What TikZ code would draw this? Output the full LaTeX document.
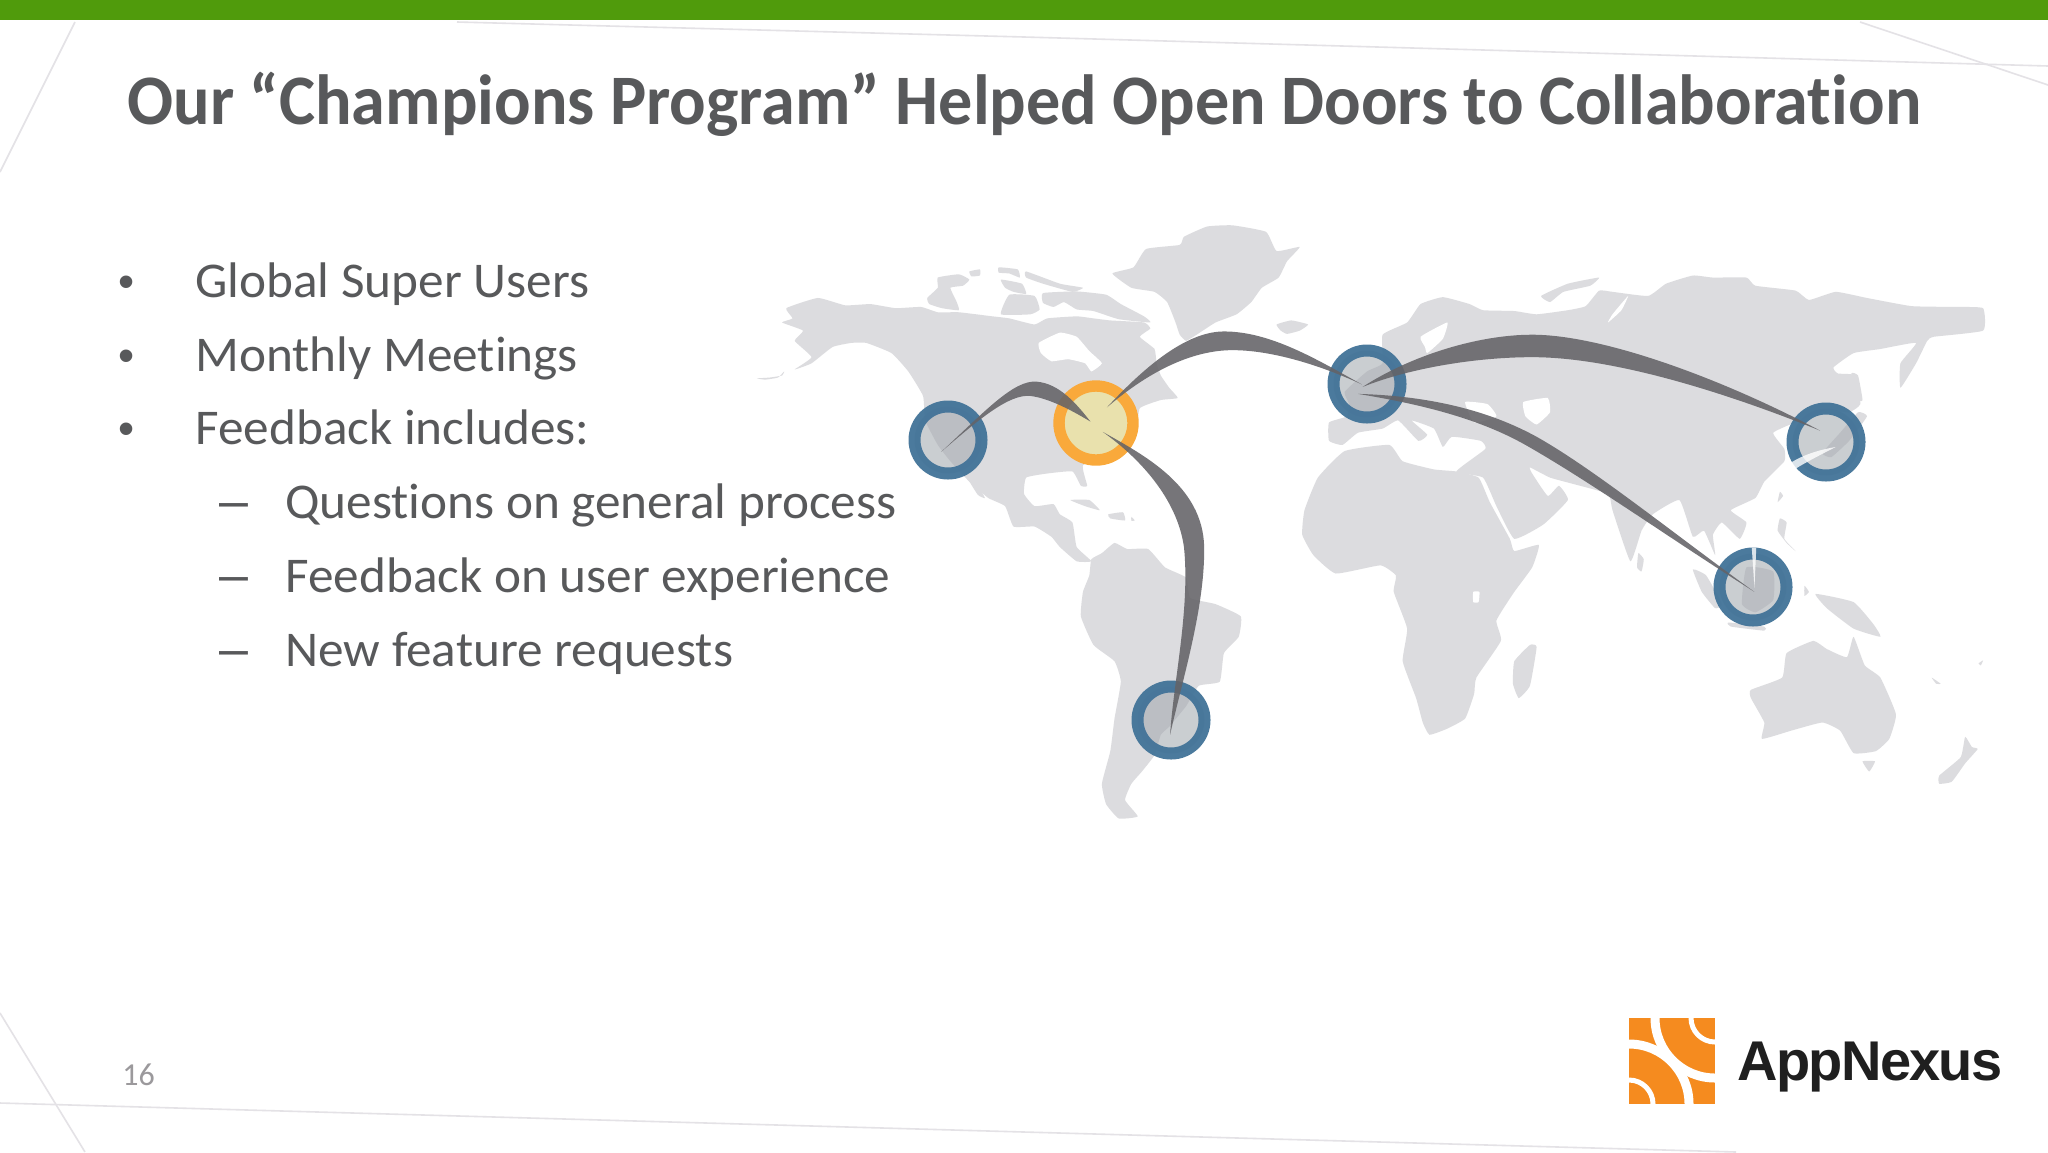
\documentclass[tikz,border=0pt]{standalone}
\usepackage{fontspec}
\setmainfont{Carlito}[RawFeature=-liga]
\newfontfamily\titleFont{Carlito}[FakeStretch=.96,RawFeature=-liga]
\newfontfamily\bodyFont{Carlito}[FakeStretch=1.025,RawFeature=-liga]
\newfontfamily\logoFont[LetterSpace=-3]{Liberation Sans}
\newfontfamily\markFont{Liberation Sans}
\usetikzlibrary{positioning}
\definecolor{barGreen}{RGB}{80,155,12}
\definecolor{inkGrey}{RGB}{88,89,91}
\definecolor{pageGrey}{RGB}{155,153,156}
\definecolor{landGrey}{RGB}{220,220,223}
\definecolor{traceGrey}{RGB}{228,226,230}
\definecolor{hubBlue}{RGB}{66,115,152}
\definecolor{hubFace}{RGB}{160,166,172}
\definecolor{homeOrange}{RGB}{249,169,59}
\definecolor{homeFace}{RGB}{236,226,165}
\definecolor{sweepGrey}{RGB}{100,99,103}
\definecolor{logoOrange}{RGB}{245,139,31}
\tikzstyle{slide} = [x = .5pt, y = -.5pt]
\tikzstyle{leftZoom} = [shift = {(740,200)}, x = .2104pt, y = -.2041pt]
\tikzstyle{rightZoom} = [shift = {(1300,200)}, x = .2232pt, y = -.2041pt]
\tikzstyle{titleText} = [anchor = base west, inner sep = 0, text = inkGrey, font = \fontsize{35.5}{40}\titleFont\bfseries]
\tikzstyle{bodyText} = [anchor = base west, inner sep = 0, text = inkGrey, font = \fontsize{25}{28}\bodyFont]
\tikzstyle{bulletText} = [anchor = base, inner sep = 0, text = inkGrey, font = \fontsize{23}{28}\markFont]
\tikzstyle{dashText} = [anchor = base, inner sep = 0, text = inkGrey, font = \fontsize{26}{28}\markFont]
\tikzstyle{pageText} = [anchor = base west, inner sep = 0, text = pageGrey, font = \fontsize{16}{18}\selectfont]
\tikzstyle{logoText} = [anchor = base west, inner sep = 0, text = black!88, font = \fontsize{28}{30}\logoFont\bfseries]
\tikzstyle{trace} = [color = traceGrey, line width = .8pt]
\tikzstyle{hub} = [circle, draw = hubBlue, fill = hubFace, fill opacity = .55, draw opacity = .95, line width = 6pt, minimum size = 33.5pt, inner sep = 0]
\tikzstyle{homeHub} = [circle, draw = homeOrange, fill = homeFace, fill opacity = .85, line width = 5.7pt, minimum size = 37pt, inner sep = 0]
\tikzstyle{sweep} = [fill = sweepGrey, fill opacity = .88]
\tikzstyle{glint} = [fill = white, fill opacity = .8]
\newcommand{\landMass}[1]{\fill [landGrey] plot [smooth cycle, tension = .25] coordinates {#1};}
\newcommand{\seaPatch}[1]{\fill [white] plot [smooth cycle, tension = .25] coordinates {#1};}
\newcommand{\topicLine}[3]{
  \node [bulletText] (#1Mark) at (127,#2) {•};
  \node [bodyText] (#1) at (195,#2) {#3};
}
\newcommand{\detailLine}[3]{
  \node [dashText] (#1Mark) at (234,#2) {–};
  \node [bodyText] (#1) at (285,#2) {#3};
}
\begin{document}
\begin{tikzpicture}[slide]
  \useasboundingbox (0,0) rectangle (2048,1152);
  \fill [white] (0,0) rectangle (2048,1152);

  % faint lines behind the slide
  \draw [trace] (457,22) -- (1024,37) -- (2048,66);
  \draw [trace] (1860,22) -- (2048,85);
  \draw [trace] (75,22) -- (0,172);
  \draw [trace] (0,1013) -- (85,1152);
  \draw [trace] (0,1103) -- (1024,1132) -- (1736,1152);
  \fill [barGreen] (0,0) rectangle (2048,20);

  \node [titleText] (title) at (127,124) {Our “Champions Program” Helped Open Doors to Collaboration};
  \topicLine{superUsers}{297.5}{Global Super Users}
  \topicLine{meetings}{371}{Monthly Meetings}
  \topicLine{feedback}{444.5}{Feedback includes:}
  \detailLine{questions}{518.5}{Questions on general process}
  \detailLine{experience}{592}{Feedback on user experience}
  \detailLine{requests}{666}{New feature requests}
  \node [pageText] (pageNumber) at (122,1085) {16};

  % the americas
  \begin{scope}[leftZoom]
    \landMass{(885,180)(935,165)(965,120)(1045,110)(1055,90)(1110,65)(1170,62)(1250,78)(1275,125)(1330,115)(1300,150)(1280,190)(1240,215)(1215,250)(1180,280)(1130,300)(1085,330)(1060,345)(1045,330)(1035,300)(1015,250)(985,225)(930,215)}
    \landMass{(1275,305)(1310,295)(1350,305)(1330,320)(1300,328)(1285,320)}
    \landMass{(100,300)(125,290)(110,265)(185,240)(250,258)(310,255)(370,265)(430,262)(470,275)(520,275)(600,285)(640,290)(700,305)(730,290)(800,285)(840,290)(880,295)(960,300)(975,315)(950,335)(985,365)(990,400)(1000,430)(1020,460)(1040,485)(1000,490)(950,510)(940,570)(880,620)(815,650)(825,700)(810,700)(790,665)(730,670)(680,680)(675,720)(700,750)(745,745)(760,770)(790,790)(800,850)(835,885)(800,885)(760,850)(740,825)(700,800)(650,800)(630,750)(590,730)(545,690)(500,640)(470,600)(440,540)(435,480)(400,420)(360,375)(300,350)(265,350)(220,360)(170,400)(130,415)(170,385)(130,345)(150,320)}
    \landMass{(540,680)(560,690)(582,730)(565,722)}
    \landMass{(40,437)(70,435)(100,430)(105,420)(90,435)(60,440)}
    \seaPatch{(710,350)(760,325)(800,335)(830,370)(860,400)(835,420)(820,400)(780,390)(740,395)(715,375)}
    \landMass{(445,240)(470,215)(470,190)(520,182)(545,195)(530,210)(500,215)(515,250)(520,270)(480,265)(450,255)}
    \landMass{(545,175)(570,170)(570,185)(550,187)}
    \landMass{(615,165)(660,170)(665,190)(640,180)(615,178)}
    \landMass{(680,175)(760,205)(815,215)(790,225)(720,205)(680,190)}
    \landMass{(620,195)(670,205)(680,230)(650,225)(630,215)}
    \landMass{(640,232)(700,235)(712,268)(690,280)(620,280)}
    \landMass{(720,228)(800,224)(870,232)(905,255)(960,285)(975,300)(900,292)(840,272)(800,268)(770,250)(745,262)(720,252)}
    \landMass{(785,735)(830,735)(855,760)(820,750)}
    \landMass{(875,770)(910,765)(915,785)(880,780)}
    \landMass{(930,776)(938,785)(930,786)}
    \landMass{(835,880)(860,865)(890,840)(920,855)(970,855)(1010,900)(1060,925)(1070,975)(1130,990)(1190,1020)(1185,1070)(1150,1110)(1140,1180)(1090,1190)(1060,1240)(1020,1290)(1000,1310)(985,1360)(955,1400)(930,1430)(915,1470)(945,1510)(900,1515)(870,1480)(860,1430)(880,1350)(890,1270)(905,1180)(890,1130)(840,1090)(810,1020)(815,960)(830,920)}
  \end{scope}

  % europe, asia, africa and oceania
  \begin{scope}[rightZoom]
    \landMass{(40,680)(100,615)(200,600)(230,640)(300,660)(350,665)(400,680)(425,740)(470,830)(480,860)(535,845)(520,900)(480,960)(440,1030)(450,1080)(395,1170)(390,1210)(370,1270)(330,1295)(290,1310)(275,1280)(260,1220)(230,1130)(240,1050)(210,960)(215,920)(180,895)(80,915)(30,870)(5,820)(10,760)}
    \seaPatch{(388,960)(402,960)(400,985)(388,985)}
    \landMass{(515,1090)(530,1095)(515,1190)(490,1220)(477,1185)(480,1130)}
    \landMass{(65,590)(65,545)(105,530)(110,500)(100,470)(150,420)(185,400)(185,330)(240,300)(270,255)(320,238)(380,255)(410,270)(480,272)(530,280)(600,270)(640,260)(670,222)(700,225)(780,235)(820,205)(880,185)(925,190)(1000,190)(1020,210)(1110,222)(1140,245)(1200,225)(1270,240)(1370,260)(1470,262)(1530,265)(1530,320)(1420,335)(1405,345)(1380,400)(1345,460)(1345,400)(1380,350)(1300,365)(1240,375)(1195,410)(1205,425)(1245,430)(1255,500)(1230,520)(1180,515)(1120,540)(1060,570)(1085,610)(1085,640)(1040,690)(1020,730)(965,760)(1000,790)(985,830)(945,790)(925,820)(930,870)(905,810)(880,825)(850,735)(790,770)(765,810)(740,885)(700,760)(690,720)(610,695)(560,680)(515,655)(520,670)(555,725)(580,700)(600,735)(545,795)(480,830)(440,750)(410,680)(350,665)(415,610)(405,590)(340,580)(320,605)(300,560)(250,540)(285,575)(265,590)(220,540)(185,560)(130,570)(95,600)}
    \seaPatch{(500,495)(555,485)(560,520)(530,550)(505,530)}
    \seaPatch{(370,495)(420,500)(440,530)(390,545)}
    \seaPatch{(270,335)(330,300)(320,340)(285,375)(280,360)}
    \seaPatch{(700,280)(735,235)(720,270)(690,300)}
    \landMass{(540,235)(600,205)(670,190)(650,210)(590,225)(560,250)}
    \landMass{(880,905)(910,920)(945,990)(930,1000)(900,960)}
    \landMass{(1000,900)(1060,910)(1060,980)(1020,1010)(990,990)}
    \landMass{(960,1035)(1040,1045)(1040,1055)(965,1045)}
    \landMass{(1130,945)(1140,960)(1130,970)}
    \landMass{(1155,965)(1240,985)(1285,1040)(1300,1070)(1240,1050)(1180,1000)}
    \landMass{(1075,780)(1090,790)(1085,830)(1110,860)(1090,840)(1070,810)}
    \landMass{(1075,715)(1082,725)(1070,740)}
    \landMass{(1235,425)(1250,430)(1260,490)(1245,490)}
    \landMass{(1250,520)(1270,530)(1230,590)(1190,630)(1170,620)(1210,570)}
    \landMass{(758,865)(770,880)(765,910)(755,900)}
    \landMass{(1010,1200)(1080,1170)(1090,1110)(1150,1080)(1180,1100)(1225,1120)(1240,1070)(1265,1140)(1300,1170)(1335,1260)(1320,1320)(1290,1350)(1240,1355)(1210,1300)(1170,1280)(1100,1300)(1035,1320)(1040,1280)(1010,1220)}
    \landMass{(1260,1375)(1288,1375)(1275,1400)}
    \landMass{(1490,1315)(1505,1340)(1518,1345)(1490,1380)(1460,1425)(1432,1430)(1432,1410)(1480,1365)}
    \landMass{(1415,1170)(1435,1185)(1425,1185)}
    \landMass{(1520,1135)(1530,1128)(1525,1140)}
  \end{scope}

  \node [hub] (westHub) at (948,440) {};
  \node [homeHub] (homeHub) at (1096,423) {};
  \node [hub] (southHub) at (1171,720) {};
  \node [hub] (europeHub) at (1367,384) {};
  \node [hub] (asiaHub) at (1753,587) {};
  \node [hub] (japanHub) at (1826,442) {};

  \begin{scope}[leftZoom]
    \coordinate (westTip) at (478,617);
    \coordinate (homeTipW) at (833,543);
    \coordinate (homeTipE) at (872,508);
    \coordinate (homeTipS) at (862,568);
    \coordinate (southTip) at (1022,1310);
    \coordinate (europeTipW) at (1478,452);
    \fill [sweep] (westTip) .. controls (580,520) and (650,440) .. (705,445) .. controls (760,450) and (800,500) .. (homeTipW) .. controls (780,510) and (730,485) .. (690,480) .. controls (640,475) and (570,535) .. (westTip);
    \fill [sweep] (homeTipE) .. controls (960,410) and (1060,322) .. (1150,322) .. controls (1260,322) and (1370,390) .. (europeTipW) .. controls (1370,400) and (1250,365) .. (1160,368) .. controls (1060,372) and (960,430) .. (homeTipE);
    \fill [sweep] (homeTipS) .. controls (960,625) and (1100,700) .. (1103,850) .. controls (1105,1000) and (1050,1180) .. (southTip) .. controls (1030,1180) and (1070,1000) .. (1055,850) .. controls (1040,740) and (960,640) .. (homeTipS);
  \end{scope}
  \begin{scope}[rightZoom]
    \coordinate (europeTipN) at (140,458);
    \coordinate (europeTipS) at (130,475);
    \coordinate (japanTip) at (1165,565);
    \coordinate (asiaTip) at (1018,960);
    \fill [sweep] (europeTipN) .. controls (250,380) and (400,330) .. (520,330) .. controls (680,330) and (950,440) .. (japanTip) .. controls (950,470) and (700,385) .. (520,385) .. controls (400,385) and (250,410) .. (europeTipN);
    \fill [sweep] (europeTipS) .. controls (300,480) and (430,520) .. (530,580) .. controls (660,660) and (840,820) .. (asiaTip) .. controls (830,830) and (650,690) .. (505,600) .. controls (400,535) and (270,500) .. (europeTipS);
    \fill [glint] (1200,605) .. controls (1130,618) and (1060,650) .. (1025,740) .. controls (1065,680) and (1120,650) .. (1200,605);
    \fill [glint] (1012,852) -- (1022,852) -- (1018,950) -- cycle;
  \end{scope}

  % logo
  \begin{scope}
    \clip (1629,1018) rectangle (1715,1104);
    \fill [logoOrange] (1629,1018) rectangle (1715,1104);
    \draw [white, line width = 4.5pt] (1715,1018) circle [radius = 30pt];
    \draw [white, line width = 4.5pt] (1629,1104) circle [radius = 30pt];
    \draw [white, line width = 2.5pt] (1715,1018) circle [radius = 12pt];
    \draw [white, line width = 2.5pt] (1629,1104) circle [radius = 12pt];
  \end{scope}
  \node [logoText] (logoName) at (1737,1080) {AppNexus};
\end{tikzpicture}
\end{document}
